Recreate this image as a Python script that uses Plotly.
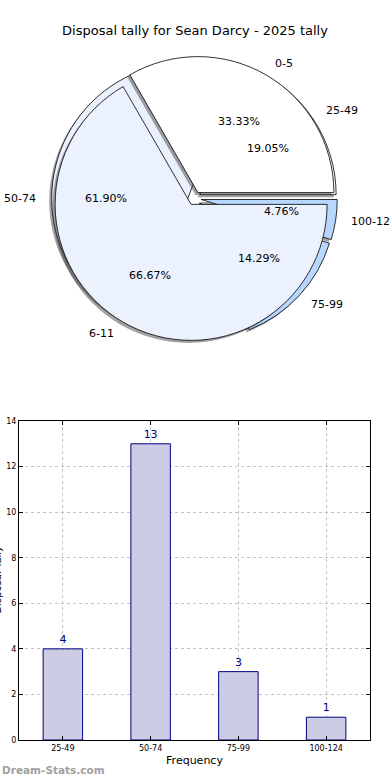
import math
import plotly.graph_objects as go

# ---------------- data ----------------
chart_title = "Disposal tally for Sean Darcy - 2025 tally"
outer_labels = ["25-49", "50-74", "75-99", "100-124"]
outer_counts = [4, 13, 3, 1]
inner_labels = ["0-5", "6-11"]
inner_counts = [1, 2]
bar_categories = ["25-49", "50-74", "75-99", "100-124"]
bar_values = [4, 13, 3, 1]
y_ticks = [0, 2, 4, 6, 8, 10, 12, 14]

# ---------------- styles ----------------
W, H = 390, 780
FONT = "DejaVu Sans"
outer_colors = ["#ffffff", "#eaf0fc", "#b8d7ff", "#b8d7ff"]
inner_colors = ["#ffffff", "#ebf1fd"]
PULL = 0.05
CX, CY, R = 194.5, 198.5, 136.0   # pie centre / radius in px
SHADOW = 2.5

def pie_domain(dx=0.0, dy=0.0):
    h = R * (1 + PULL)
    return dict(x=[(CX + dx - h) / W, (CX + dx + h) / W],
                y=[1 - (CY + dy + h) / H, 1 - (CY + dy - h) / H])

def pie_trace(labels, values, colors, shadow=False):
    dom = pie_domain(-SHADOW, SHADOW) if shadow else pie_domain()
    # counterclockwise from 3 o'clock: plotly puts the first slice clockwise of `rotation`
    first_deg = 360.0 * values[0] / sum(values)
    return go.Pie(
        labels=labels, values=values, sort=False,
        direction="counterclockwise", rotation=90 - first_deg,
        pull=[PULL] * len(values),
        marker=dict(colors=["rgba(70,70,70,0.5)"] * len(values) if shadow else colors,
                    line=dict(color="rgba(0,0,0,0)" if shadow else "#000000",
                              width=0 if shadow else 0.8)),
        textinfo="none", hoverinfo="skip" if shadow else "label+percent",
        domain=dom, showlegend=False, automargin=False,
    )

fig = go.Figure()
fig.add_trace(pie_trace(outer_labels, outer_counts, outer_colors, shadow=True))
fig.add_trace(pie_trace(outer_labels, outer_counts, outer_colors))
fig.add_trace(pie_trace(inner_labels, inner_counts, inner_colors, shadow=True))
fig.add_trace(pie_trace(inner_labels, inner_counts, inner_colors))

annotations = []

def pie_text(labels, values):
    total = float(sum(values))
    cum = 0.0
    for lab, v in zip(labels, values):
        frac = v / total
        th = 2 * math.pi * (cum + frac / 2)
        cum += frac
        c, s = math.cos(th), math.sin(th)
        d = (PULL + 0.6) * R
        annotations.append(dict(
            x=(CX + d * c) / W, y=1 - (CY - d * s) / H, xref="paper", yref="paper",
            text=f"{frac * 100:.2f}%", showarrow=False,
            xanchor="center", yanchor="middle",
            font=dict(family=FONT, size=11, color="#000000")))
        d = (PULL + 1.1) * R
        annotations.append(dict(
            x=(CX + d * c) / W, y=1 - (CY - d * s) / H, xref="paper", yref="paper",
            text=lab, showarrow=False,
            xanchor="left" if c > 0 else "right", yanchor="middle",
            font=dict(family=FONT, size=11, color="#000000")))

pie_text(outer_labels, outer_counts)
pie_text(inner_labels, inner_counts)

# ---------------- bar chart ----------------
fig.add_trace(go.Bar(
    x=bar_categories, y=bar_values, width=0.45,
    marker=dict(color="#ccccE5", line=dict(color="#000080", width=1)),
    text=[str(v) for v in bar_values], textposition="outside",
    textfont=dict(family=FONT, size=11, color="#000080"),
    cliponaxis=False, showlegend=False, xaxis="x", yaxis="y",
))

ax_common = dict(showline=True, linecolor="#000000", linewidth=1, mirror="allticks",
                 ticks="inside", ticklen=4, tickcolor="#000000", automargin=False,
                 showgrid=True, gridcolor="#c4c4c4", griddash="dot", gridwidth=1,
                 zeroline=False, tickfont=dict(family=FONT, size=8, color="#000000"))

fig.update_layout(
    width=W, height=H, margin=dict(l=0, r=0, t=0, b=0, autoexpand=False),
    paper_bgcolor="#ffffff", plot_bgcolor="#ffffff",
    xaxis=dict(domain=[19 / W, 370 / W], type="category", range=[-0.5, 3.5],
               title=dict(text="Frequency", standoff=4,
                          font=dict(family=FONT, size=11, color="#000000")),
               **ax_common),
    yaxis=dict(domain=[1 - 740 / H, 1 - 421 / H], range=[0, 14], tickvals=y_ticks,
               **ax_common),
    title=dict(text=chart_title, x=0.5, xanchor="center", y=1 - 30 / H, yanchor="middle",
               font=dict(family=FONT, size=13, color="#000000")),
    annotations=annotations + [
        dict(text="Disposal Tally", textangle=-90, x=4 / W, y=1 - 580 / H,
             xref="paper", yref="paper", xanchor="right", yanchor="middle",
             showarrow=False, font=dict(family=FONT, size=10, color="#000000")),
        dict(text="<b>Dream-Stats.com</b>", x=0, y=1 - 770 / H, xref="paper", yref="paper",
             xanchor="left", yanchor="middle", showarrow=False,
             font=dict(family=FONT, size=10.5, color="#a0a0a0")),
    ],
)

fig.write_html("out.html", config={"displayModeBar": False},
               post_script="document.body.style.margin='0';")
